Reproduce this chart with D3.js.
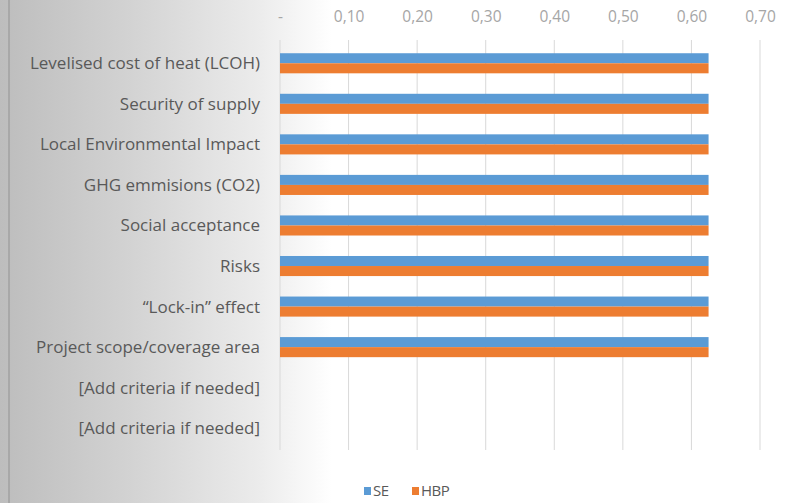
<!DOCTYPE html>
<html>
<head>
<meta charset="utf-8">
<script src="https://cdn.jsdelivr.net/npm/d3@7"></script>
<style>
  body { margin: 0; }
  svg { display: block; }
</style>
</head>
<body>
<svg id="chart" width="791" height="503"></svg>
<script>
const criteria = [
    "Levelised cost of heat (LCOH)",
    "Security of supply",
    "Local Environmental Impact",
    "GHG emmisions (CO2)",
    "Social acceptance",
    "Risks",
    "\u201cLock-in\u201d effect",
    "Project scope/coverage area",
    "[Add criteria if needed]",
    "[Add criteria if needed]"
];
const seriesNames = ["SE", "HBP"];
const seValues = [0.625, 0.625, 0.625, 0.625, 0.625, 0.625, 0.625, 0.625, null, null];
const hbpValues = [0.625, 0.625, 0.625, 0.625, 0.625, 0.625, 0.625, 0.625, null, null];
const tickValues = [0, 0.1, 0.2, 0.3, 0.4, 0.5, 0.6, 0.7];
const colors = ["#5b9bd5", "#ed7d31"];

const svg = d3.select("#chart");
const W = 791, H = 503;

// background gradient (slide behind the chart)
const defs = svg.append("defs");
const grad = defs.append("linearGradient").attr("id", "bg").attr("x1", 0).attr("x2", 1).attr("y1", 0).attr("y2", 0);
grad.append("stop").attr("offset", "0%").attr("stop-color", "#bdbdbd");
grad.append("stop").attr("offset", "16%").attr("stop-color", "#d2d2d2");
grad.append("stop").attr("offset", "33%").attr("stop-color", "#ececec");
grad.append("stop").attr("offset", "42%").attr("stop-color", "#ffffff");
grad.append("stop").attr("offset", "100%").attr("stop-color", "#ffffff");
svg.append("rect").attr("width", W).attr("height", H).attr("fill", "url(#bg)");
svg.append("line")
    .attr("x1", 9).attr("x2", 9).attr("y1", 0).attr("y2", H)
    .attr("stroke", "#a8a8a8").attr("stroke-width", 2);

const x = d3.scaleLinear().domain([0, 0.7]).range([280, 760]);
const y = d3.scaleBand().domain(d3.range(criteria.length)).range([43, 448.5]);
const ySub = d3.scaleBand().domain(d3.range(seriesNames.length))
    .range([0, y.bandwidth()]).paddingInner(0).paddingOuter(1.02);

// gridlines
svg.append("g").selectAll("line")
    .data(tickValues)
    .join("line")
    .attr("x1", d => x(d)).attr("x2", d => x(d))
    .attr("y1", 40).attr("y2", 450)
    .attr("stroke", "#d9d9d9").attr("stroke-width", 1);

// top axis
const axis = d3.axisTop(x)
    .tickValues(tickValues)
    .tickSize(0)
    .tickPadding(0)
    .tickFormat(d => d === 0 ? "-" : d3.format(".2f")(d).replace(".", ","));
const ax = svg.append("g").attr("transform", "translate(0,22)").call(axis);
ax.select(".domain").remove();
ax.selectAll("text")
    .attr("fill", "#a6a6a6")
    .style("font-family", "'Open Sans', sans-serif")
    .style("font-size", "15.5px");

// bars
const seriesData = [seValues, hbpValues];
seriesData.forEach((vals, s) => {
    svg.append("g").selectAll("rect")
        .data(vals.map((v, i) => ({ v, i })).filter(d => d.v !== null))
        .join("rect")
        .attr("x", x(0))
        .attr("y", d => y(d.i) + ySub(s))
        .attr("width", d => x(d.v) - x(0))
        .attr("height", ySub.bandwidth())
        .attr("fill", colors[s]);
});

// category labels
svg.append("g").selectAll("text")
    .data(criteria)
    .join("text")
    .attr("x", 260)
    .attr("y", (d, i) => y(i) + y.bandwidth() / 2)
    .attr("dy", "0.35em")
    .attr("text-anchor", "end")
    .attr("fill", "#595959")
    .style("font-family", "'Open Sans', sans-serif")
    .style("font-size", "17px")
    .text(d => d);

// legend
const legend = svg.append("g").attr("transform", "translate(364,491)");
const lx = [0, 48];
seriesNames.forEach((name, s) => {
    const g = legend.append("g").attr("transform", `translate(${lx[s]},0)`);
    g.append("rect").attr("x", 0).attr("y", -4).attr("width", 7).attr("height", 8).attr("fill", colors[s]);
    g.append("text").attr("x", 9).attr("y", 0).attr("dy", "0.35em")
        .attr("fill", "#595959")
        .style("font-family", "'Open Sans', sans-serif")
        .style("font-size", "15px")
        .style("letter-spacing", "-0.5px")
        .text(name);
});
</script>
</body>
</html>
